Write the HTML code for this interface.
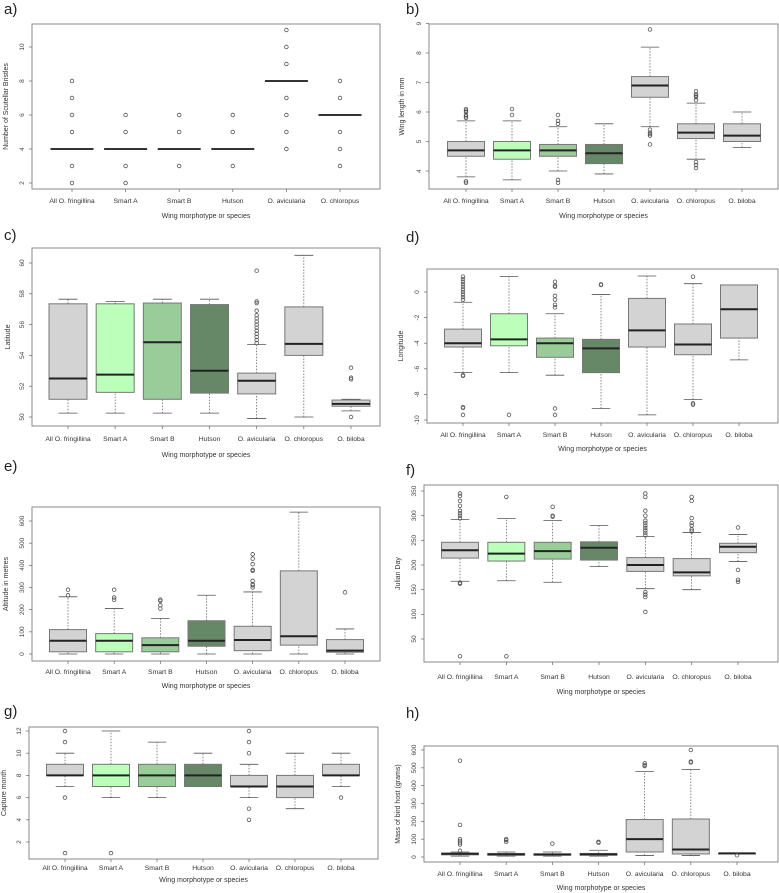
<!DOCTYPE html>
<html><head><meta charset="utf-8"><style>
html,body{margin:0;padding:0;background:#fff;}
svg{display:block;font-family:"Liberation Sans",sans-serif;}
</style></head><body>
<svg id="fig" width="779" height="893" viewBox="0 0 779 893"></svg>
<script>
const categories7 = ["All O. fringillina","Smart A","Smart B","Hutson","O. avicularia","O. chloropus","O. biloba"];
const categories6 = categories7.slice(0,6);
const fillColors = ["#d3d3d3","#bbffbb","#99cc99","#668866","#d3d3d3","#d3d3d3","#d3d3d3"];
// each group: [lowWhisker, q1, median, q3, highWhisker]
const scutMedians = [4,4,4,4,8,6];
const scutOutliers = [[2,3,5,6,7,8],[2,3,5,6],[3,5,6],[3,5,6],[4,5,6,7,9,10,11],[3,4,5,7,8]];
const wingStats = [[3.8,4.5,4.7,5.0,5.7],[3.7,4.4,4.7,5.0,5.7],[4.0,4.5,4.7,4.9,5.5],[3.9,4.25,4.6,4.9,5.6],[5.5,6.5,6.9,7.2,8.2],[4.4,5.1,5.3,5.6,6.3],[4.8,5.0,5.2,5.6,6.0]];
const wingOutliers = [[3.6,3.65,5.8,5.85,5.9,6.0,6.05,6.1],[5.9,6.1],[3.6,3.7,5.6,5.7,5.9],[],[4.9,5.2,5.25,5.3,5.4,8.8],[4.1,4.2,4.3,6.4,6.5,6.55,6.6,6.7],[]];
const latStats = [[50.25,51.15,52.5,57.35,57.65],[50.25,51.6,52.75,57.35,57.5],[50.25,51.15,54.85,57.4,57.65],[50.25,51.55,53.0,57.3,57.65],[49.9,51.5,52.35,52.85,54.7],[50.0,54.0,54.75,57.15,60.5],[50.4,50.7,50.85,51.1,51.15]];
const latOutliers = [[],[],[],[],[54.8,55,55.2,55.4,55.6,55.8,56,56.2,56.4,56.6,56.9,57.4,57.5,59.5],[],[50.0,52.45,52.55,53.2]];
const lonStats = [[-6.3,-4.3,-4.0,-2.9,-0.8],[-6.3,-4.2,-3.7,-1.7,1.2],[-6.5,-5.1,-4.0,-3.6,-1.7],[-9.1,-6.3,-4.4,-3.7,-0.2],[-9.6,-4.3,-3.0,-0.5,1.25],[-8.4,-4.9,-4.1,-2.5,0.65],[-5.3,-3.6,-1.35,0.55,0.55]];
const lonOutliers = [[-6.5,-6.55,-9.0,-9.05,-9.6,-0.6,-0.4,-0.2,0,0.2,0.4,0.6,0.8,1.0,1.2],[-9.6],[-9.1,-9.6,-1.2,-1.0,-0.6,-0.3,0.4,0.5,0.8],[0.55,0.6],[],[-8.7,-8.8,1.2],[]];
const altStats = [[0,10,60,110,258],[0,10,60,92,205],[0,10,40,73,160],[0,35,60,150,265],[0,15,63,125,280],[0,40,80,375,640],[0,8,15,65,113]];
const altOutliers = [[265,290],[245,255,290],[205,220,240,245],[],[300,310,315,330,375,380,405,430,450],[],[278]];
const dayStats = [[167,214,230,246,292],[168,208,223,246,294],[165,212,228,246,290],[197,210,235,247,280],[152,187,200,215,258],[150,178,185,213,266],[207,225,237,244,262]];
const dayOutliers = [[15,162,164,295,300,305,310,320,330,340,345],[15,338],[298,300,318],[],[105,135,140,145,260,265,270,275,280,285,290,300,310,338,345],[268,272,280,285,295,330,338],[166,170,190,276]];
const monthStats = [[7,8,8,9,10],[6,7,8,9,12],[6,7,8,9,11],[7,7,8,9,10],[6,7,7,8,9],[5,6,7,8,10],[7,8,8,9,10]];
const monthOutliers = [[1,6,11,12],[1],[],[],[4,5,10,11,12],[],[6]];
const massStats = [[5,12,18,22,28],[5,10,15,20,28],[5,10,14,18,28],[5,10,15,20,38],[8,28,100,210,480],[8,17,42,213,490],[18,19,20,20,21]];
const massOutliers = [[35,70,80,90,100,180,540],[85,95,100],[75],[80,85],[510,515,525],[530,535,600],[10]];
const ticksA = [2,4,6,8,10], ticksB=[4,5,6,7,8,9], ticksC=[50,52,54,56,58,60], ticksD=[-10,-8,-6,-4,-2,0],
      ticksE=[0,100,200,300,400,500,600], ticksF=[50,100,150,200,250,300,350], ticksG=[2,4,6,8,10,12], ticksH=[0,100,200,300,400,500,600];

const NS="http://www.w3.org/2000/svg";
const svg=document.getElementById('fig');
function mk(tag,attrs,parent){const e=document.createElementNS(NS,tag);for(const k in attrs)e.setAttribute(k,attrs[k]);(parent||svg).appendChild(e);return e;}

function panel(cfg){
  const g=mk('g',{});
  
  
  const yS=v=>cfg.p1+(v-cfg.v1)*(cfg.p2-cfg.p1)/(cfg.v2-cfg.v1);
  const n=cfg.cats.length;
  const xS=i=>cfg.c0+i*(cfg.c1-cfg.c0)/(n-1);
  const lab=mk('text',{x:cfg.lx,y:cfg.ly,'font-size':15,fill:'#222'},g);lab.textContent=cfg.letter+')';
  
  
  const fr=mk('rect',{x:cfg.x0,y:cfg.y0,width:cfg.x1-cfg.x0,height:cfg.y1-cfg.y0,fill:'none',stroke:'#888','stroke-width':1},g);
  
  
  // y ticks
  cfg.ticks.forEach(t=>{
    const y=yS(t);
    mk('line',{x1:cfg.x0-3,x2:cfg.x0,y1:y,y2:y,stroke:'#666','stroke-width':0.7},g);
    const tx=mk('text',{x:cfg.x0-8,y:y,'font-size':6.5,fill:'#444','text-anchor':'middle',transform:`rotate(-90 ${cfg.x0-8} ${y})`},g);
    tx.textContent=t;
    
    
  });
  const yt=mk('text',{x:cfg.ytx,y:(cfg.y0+cfg.y1)/2,'font-size':7,fill:'#333','text-anchor':'middle',transform:`rotate(-90 ${cfg.ytx} ${(cfg.y0+cfg.y1)/2})`},g);
  yt.textContent=cfg.ytitle;
  
  
  const bw=cfg.bw;
  cfg.cats.forEach((c,i)=>{
    const x=xS(i);
    mk('line',{x1:x,x2:x,y1:cfg.y1,y2:cfg.y1+3,stroke:'#666','stroke-width':0.7},g);
    const cl=mk('text',{x:x,y:cfg.labY,'font-size':6.8,fill:'#333','text-anchor':'middle'},g);
    cl.textContent=c;
    
    
    const bg=mk('g',{},g);
    
    
    if(cfg.stats){
      const s=cfg.stats[i];
      mk('line',{x1:x,x2:x,y1:yS(s[0]),y2:yS(s[1]),stroke:'#555','stroke-width':0.7,'stroke-dasharray':'1.5,1.5'},bg);
      mk('line',{x1:x,x2:x,y1:yS(s[3]),y2:yS(s[4]),stroke:'#555','stroke-width':0.7,'stroke-dasharray':'1.5,1.5'},bg);
      mk('line',{x1:x-bw/4,x2:x+bw/4,y1:yS(s[0]),y2:yS(s[0]),stroke:'#555','stroke-width':0.8},bg);
      mk('line',{x1:x-bw/4,x2:x+bw/4,y1:yS(s[4]),y2:yS(s[4]),stroke:'#555','stroke-width':0.8},bg);
      mk('rect',{x:x-bw/2,y:yS(s[3]),width:bw,height:Math.max(0.5,yS(s[1])-yS(s[3])),fill:fillColors[i],stroke:'#777','stroke-width':1},bg);
      mk('line',{x1:x-bw/2,x2:x+bw/2,y1:yS(s[2]),y2:yS(s[2]),stroke:'#222','stroke-width':2},bg);
    } else {
      mk('line',{x1:x-bw/2,x2:x+bw/2,y1:yS(cfg.medians[i]),y2:yS(cfg.medians[i]),stroke:'#333','stroke-width':2},bg);
    }
    cfg.out[i].forEach(o=>{
      mk('circle',{cx:x,cy:yS(o),r:1.8,fill:'none',stroke:'#555','stroke-width':0.8},bg);
    });
  });
  const xt=mk('text',{x:(cfg.x0+cfg.x1)/2,y:cfg.titY,'font-size':7,fill:'#333','text-anchor':'middle'},g);
  xt.textContent='Wing morphotype or species';
  
  
}

panel({letter:'a',lx:4,ly:14,x0:32,x1:380,y0:24,y1:189,v1:2,p1:183,v2:10,p2:47,c0:72,c1:340,cats:categories6,medians:scutMedians,out:scutOutliers,ticks:ticksA,bw:43,labY:203,titY:218,ytitle:'Number of Scutellar Bristles',ytx:8});
panel({letter:'b',lx:406,ly:14,x0:429,x1:778,y0:24,y1:189,v1:4,p1:171,v2:8,p2:53,c0:466,c1:742,cats:categories7,stats:wingStats,out:wingOutliers,ticks:ticksB,bw:37,labY:203,titY:218,ytitle:'Wing length in mm',ytx:404});
panel({letter:'c',lx:4,ly:240,x0:32,x1:380,y0:248,y1:426,v1:50,p1:417,v2:60,p2:263,c0:68,c1:351,cats:categories7,stats:latStats,out:latOutliers,ticks:ticksC,bw:38,labY:441,titY:457,ytitle:'Latitude',ytx:10});
panel({letter:'d',lx:406,ly:242,x0:427,x1:778,y0:269,y1:423,v1:0,p1:292,v2:-10,p2:420,c0:463,c1:739,cats:categories7,stats:lonStats,out:lonOutliers,ticks:ticksD,bw:37,labY:437,titY:451,ytitle:'Longitude',ytx:403});
panel({letter:'e',lx:4,ly:471,x0:32,x1:380,y0:507,y1:661,v1:0,p1:654,v2:600,p2:521,c0:68,c1:345,cats:categories7,stats:altStats,out:altOutliers,ticks:ticksE,bw:37,labY:674,titY:688,ytitle:'Altitude in metres',ytx:8});
panel({letter:'f',lx:406,ly:475,x0:424,x1:778,y0:485,y1:662,v1:50,p1:639,v2:350,p2:491,c0:460,c1:738,cats:categories7,stats:dayStats,out:dayOutliers,ticks:ticksF,bw:37,labY:679,titY:694,ytitle:'Julian Day',ytx:400});
panel({letter:'g',lx:4,ly:716,x0:29,x1:378,y0:727,y1:859,v1:2,p1:842,v2:12,p2:731,c0:65,c1:341,cats:categories7,stats:monthStats,out:monthOutliers,ticks:ticksG,bw:37,labY:870,titY:882,ytitle:'Capture month',ytx:6});
panel({letter:'h',lx:406,ly:718,x0:424,x1:778,y0:746,y1:862,v1:0,p1:857,v2:600,p2:750,c0:460,c1:737,cats:categories7,stats:massStats,out:massOutliers,ticks:ticksH,bw:37,labY:876,titY:890,ytitle:'Mass of bird host (grams)',ytx:400});
</script>
</body></html>
